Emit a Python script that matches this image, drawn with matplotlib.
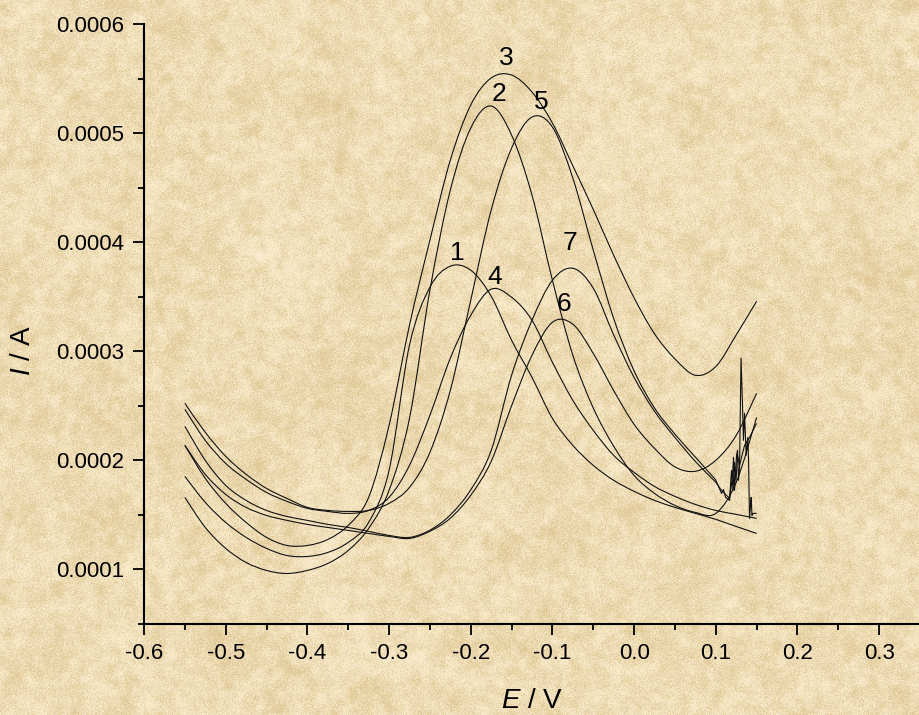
import numpy as np
import matplotlib
matplotlib.use("Agg")
import matplotlib.pyplot as plt
from matplotlib.ticker import MultipleLocator, FuncFormatter
from matplotlib.path import Path
from matplotlib.patches import PathPatch

plt.rcParams['font.family'] = ['Liberation Sans', 'DejaVu Sans']
plt.rcParams['axes.unicode_minus'] = False
plt.rcParams['mathtext.fontset'] = 'custom'
plt.rcParams['mathtext.it'] = 'Liberation Sans:italic'
plt.rcParams['mathtext.rm'] = 'Liberation Sans'

# ---------------- data (current in units of 1e-4 A) ----------------
E = [-0.550, -0.525, -0.500, -0.475, -0.450, -0.425, -0.400, -0.375, -0.350,
     -0.325, -0.300, -0.275, -0.250, -0.225, -0.200, -0.175, -0.150, -0.125,
     -0.100, -0.075, -0.050, -0.025, 0.000, 0.025, 0.050, 0.075, 0.100,
     0.125, 0.150]

I1 = [1.853, 1.615, 1.431, 1.294, 1.193, 1.128, 1.119, 1.156, 1.248, 1.431,
      1.908, 3.055, 3.587, 3.780, 3.743, 3.505, 3.101, 2.761, 2.385, 2.138,
      1.954, 1.817, 1.716, 1.633, 1.569, 1.514, 1.459, 1.394, 1.330]
I2 = [1.661, 1.385, 1.193, 1.064, 0.991, 0.963, 0.991, 1.055, 1.174, 1.376,
      1.725, 2.385, 3.560, 4.477, 5.046, 5.248, 4.982, 4.431, 3.651, 2.963,
      2.480, 2.130, 1.862, 1.697, 1.587, 1.523, 1.514, 1.798, 2.394]
I3 = [2.138, 1.835, 1.606, 1.431, 1.294, 1.220, 1.220, 1.275, 1.404, 1.661,
      2.321, 3.239, 4.018, 4.752, 5.257, 5.505, 5.532, 5.376, 5.092, 4.700,
      4.300, 3.880, 3.490, 3.160, 2.930, 2.780, 2.860, 3.150, 3.459]
I4 = [2.468, 2.183, 1.972, 1.826, 1.706, 1.624, 1.560, 1.532, 1.514, 1.541,
      1.661, 1.954, 2.413, 2.936, 3.330, 3.569, 3.495, 3.284, 2.899, 2.550,
      2.275, 2.046, 1.890, 1.761, 1.670, 1.596, 1.541, 1.505, 1.468]
I5 = [2.523, 2.257, 2.037, 1.872, 1.743, 1.651, 1.569, 1.541, 1.532, 1.541,
      1.606, 1.752, 2.073, 2.642, 3.468, 4.294, 4.862, 5.147, 5.055, 4.587,
      3.927, 3.300, 2.820, 2.480, 2.240, 2.030, 1.820]
E5_TAIL = [0.1070, 0.1094, 0.1119, 0.1168, 0.1205, 0.1217, 0.1229, 0.1254,
           0.1266, 0.1278, 0.1291, 0.1309, 0.1325, 0.1339, 0.1352, 0.1372,
           0.1392, 0.1401, 0.1413, 0.1425, 0.1433, 0.1443, 0.1454, 0.1499]
I5_TAIL = [1.697, 1.734, 1.661, 1.633, 1.862, 2.028, 1.725, 2.046, 2.092,
           1.817, 1.936, 2.936, 2.550, 2.183, 2.431, 2.046, 2.211, 2.000,
           1.468, 1.587, 1.661, 1.495, 1.514, 1.514]
I6 = [2.138, 1.872, 1.688, 1.569, 1.495, 1.450, 1.413, 1.385, 1.358, 1.330,
      1.303, 1.284, 1.350, 1.470, 1.680, 1.990, 2.500, 2.963, 3.266, 3.248,
      2.980, 2.640, 2.330, 2.110, 1.940, 1.900, 2.000, 2.229, 2.615]
I7 = [2.312, 2.000, 1.771, 1.633, 1.541, 1.486, 1.450, 1.413, 1.385, 1.349,
      1.312, 1.294, 1.360, 1.500, 1.730, 2.090, 2.780, 3.284, 3.651, 3.761,
      3.578, 3.150, 2.760, 2.450, 2.210, 1.990, 1.800]
E7_TAIL = [0.1070, 0.1168, 0.1193, 0.1211, 0.1229, 0.1248, 0.1266, 0.1291,
           0.1352, 0.1413, 0.1499]
I7_TAIL = [1.725, 1.651, 1.908, 1.725, 1.982, 1.817, 2.046, 1.954, 2.138,
           2.211, 2.339]

CURVE_LABELS = ["1", "2", "3", "4", "5", "6", "7"]
LABEL_POS = [(-0.2159, 3.899), (-0.1654, 5.358), (-0.1563, 5.685),
             (-0.1706, 3.682), (-0.1135, 5.287), (-0.0862, 3.431),
             (-0.0789, 3.988)]

SCALE = 1e-4

# ---------------- figure ----------------
W, H = 920, 715
fig = plt.figure(figsize=(W / 100, H / 100), dpi=100)


def parchment(h, w, seed=11):
    rng = np.random.default_rng(seed)
    noise = rng.standard_normal((h, w))
    F = np.fft.rfft2(noise)
    fy = np.fft.fftfreq(h)[:, None]
    fx = np.fft.rfftfreq(w)[None, :]
    f = np.sqrt(fx ** 2 + fy ** 2)
    filt = np.exp(-(f / 0.012) ** 2) + 0.45 * np.exp(-(f / 0.06) ** 2) + 0.08
    img = np.fft.irfft2(F * filt, s=(h, w))
    img = (img - img.mean()) / img.std()
    t = np.clip(0.42 + 0.27 * img, 0, 1)[..., None]
    light = np.array([248, 234, 202]) / 255.0
    dark = np.array([224, 200, 150]) / 255.0
    return light * (1 - t) + dark * t


bg = fig.add_axes([0, 0, 1, 1], zorder=0)
bg.imshow(parchment(H, W), aspect='auto', interpolation='bilinear')
bg.axis('off')

ax = fig.add_axes([144 / W, 91 / H, 776 / W, 600 / H], zorder=1)
ax.patch.set_alpha(0)

lw = 0.8
col = '#111111'


def draw_curve(xs, ys, tail_x=(), tail_y=()):
    """Smooth (Catmull-Rom rendered as cubic Bezier) path through the read
    points, followed by straight segments through the noisy tail points."""
    pts = np.column_stack([xs, np.asarray(ys) * SCALE])
    n = len(pts)
    verts = [pts[0]]
    codes = [Path.MOVETO]
    for i in range(n - 1):
        p0 = pts[max(i - 1, 0)]
        p1 = pts[i]
        p2 = pts[i + 1]
        p3 = pts[min(i + 2, n - 1)]
        verts += [p1 + (p2 - p0) / 6.0, p2 - (p3 - p1) / 6.0, p2]
        codes += [Path.CURVE4] * 3
    for tx, ty in zip(tail_x, tail_y):
        verts.append((tx, ty * SCALE))
        codes.append(Path.LINETO)
    ax.add_patch(PathPatch(Path(verts, codes), fill=False, lw=lw,
                           edgecolor=col, joinstyle='round'))


draw_curve(E, I1)
draw_curve(E, I2)
draw_curve(E, I3)
draw_curve(E, I4)
draw_curve(E[:len(I5)], I5, E5_TAIL, I5_TAIL)
draw_curve(E, I6)
draw_curve(E[:len(I7)], I7, E7_TAIL, I7_TAIL)

for lab, (lx, ly) in zip(CURVE_LABELS, LABEL_POS):
    ax.text(lx, ly * SCALE, lab, fontsize=19, ha='center', va='center',
            color='black')

ax.set_xlim(-0.6, 0.35)
ax.set_ylim(0.00005, 0.0006)

for s in ['top', 'right']:
    ax.spines[s].set_visible(False)
for s in ['left', 'bottom']:
    ax.spines[s].set_linewidth(1.5)
    ax.spines[s].set_color('black')

ax.xaxis.set_major_locator(MultipleLocator(0.1))
ax.xaxis.set_minor_locator(MultipleLocator(0.05))
ax.yaxis.set_major_locator(MultipleLocator(0.0001))
ax.yaxis.set_minor_locator(MultipleLocator(0.00005))
ax.xaxis.set_major_formatter(FuncFormatter(lambda v, p: f"{v:.1f}" if abs(v) > 1e-9 else "0.0"))
ax.yaxis.set_major_formatter(FuncFormatter(lambda v, p: f"{v:.4f}"))

ax.tick_params(which='major', direction='out', length=8, width=1.3,
               labelsize=16, colors='black')
ax.tick_params(which='minor', direction='out', length=4.5, width=1.3)
ax.tick_params(axis='x', which='major', pad=6)
ax.tick_params(axis='y', which='major', pad=6)

fig.text(532 / W, (H - 701) / H, r"$\mathit{E}$ / V", fontsize=20,
         ha='center', va='center')
fig.text(23 / W, (H - 350) / H, r"$\mathit{I}$ / A", fontsize=20,
         ha='center', va='center', rotation=90)

fig.savefig("out.png", dpi=100)
